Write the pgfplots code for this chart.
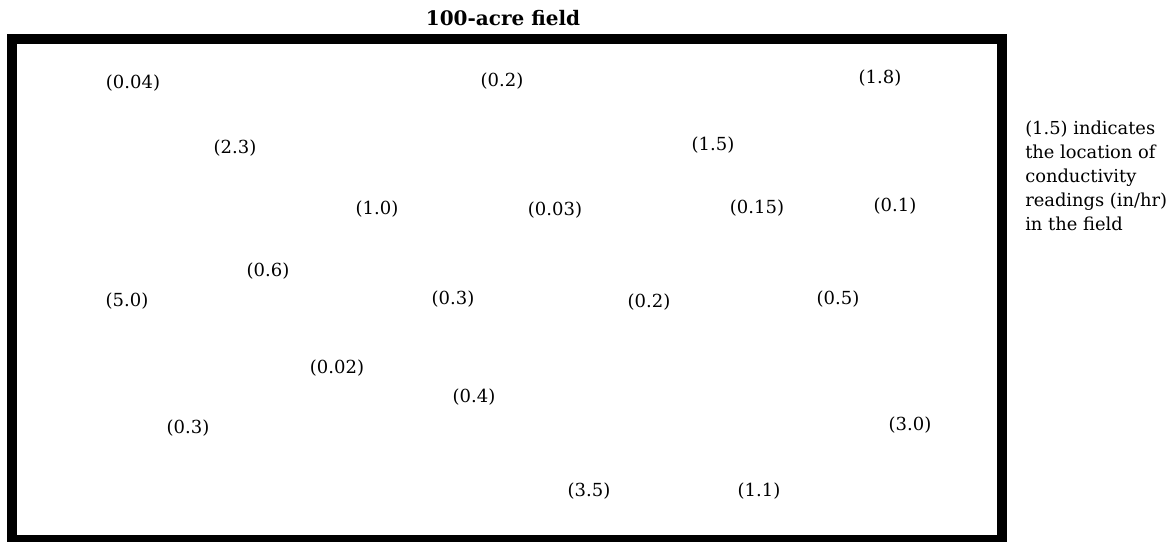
\documentclass[border=0pt]{standalone}
\usepackage{fontspec}
\setmainfont{DejaVu Serif}
\usepackage{pgfplots}
\pgfplotsset{compat=1.18}
\begin{document}
\begin{tikzpicture}
\begin{axis}[
  scale only axis, width=878.25pt, height=406.5pt,
  xmin=0, xmax=1171, ymin=0, ymax=542, y dir=reverse,
  hide axis, clip=true,
  every node near coord/.append style={anchor=center, font=\fontsize{13.5}{16}\selectfont, text=black},
]
\addplot[black, line width=7.5pt, line cap=rect, line join=miter]
  coordinates {(12,39.5) (1002,39.5) (1002,540) (12,540) (12,39.5)};
\addplot[draw=none, mark=none, nodes near coords, point meta=explicit symbolic]
  table[meta=label] {
x y label
133 83 (0.04)
502 81 (0.2)
880 78 (1.8)
235 148 (2.3)
713 145 (1.5)
377 209 (1.0)
555 210 (0.03)
757 208 (0.15)
895 206 (0.1)
268 271 (0.6)
127 301 (5.0)
453 299 (0.3)
649 302 (0.2)
838 299 (0.5)
337 368 (0.02)
474 397 (0.4)
188 428 (0.3)
910 425 (3.0)
589 491 (3.5)
759 491 (1.1)
};
\node[anchor=center, font=\fontsize{15}{18}\selectfont\bfseries] at (axis cs:503,18) {100-acre field};
\node[anchor=north west, align=left, inner sep=0pt, font=\fontsize{13.4}{18}\selectfont] at (axis cs:1025,121)
  {(1.5) indicates\\the location of\\conductivity\\readings (in/hr)\\in the field};
\end{axis}
\pgfresetboundingbox
\useasboundingbox (current axis.south west) rectangle (current axis.north east);
\end{tikzpicture}
\end{document}
